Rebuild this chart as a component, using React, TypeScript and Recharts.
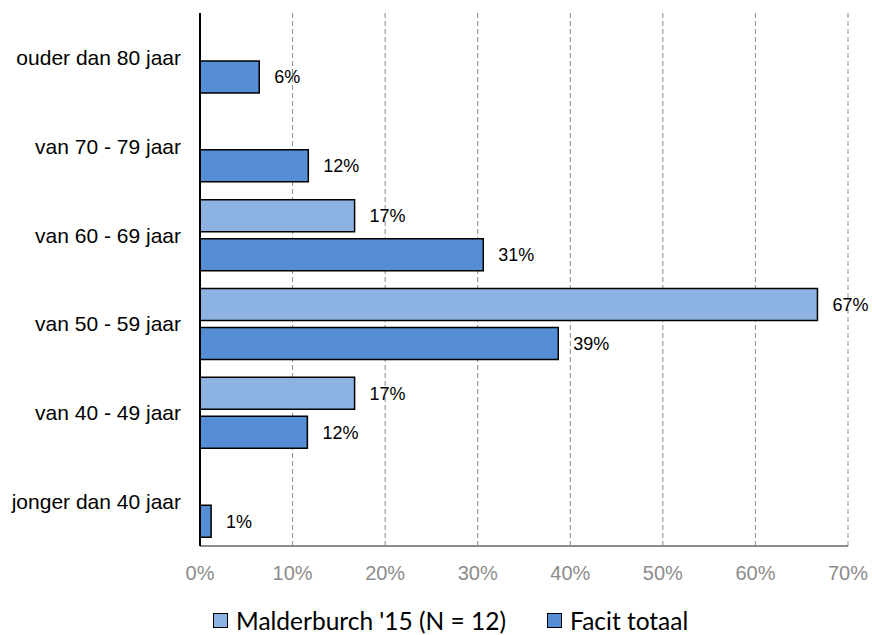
import { BarChart, Bar, XAxis, YAxis, CartesianGrid, Legend, LabelList } from 'recharts';

const categories = [
  'ouder dan 80 jaar',
  'van 70 - 79 jaar',
  'van 60 - 69 jaar',
  'van 50 - 59 jaar',
  'van 40 - 49 jaar',
  'jonger dan 40 jaar',
];
const malderburch = [null, null, 16.7, 66.7, 16.7, null];
const facitTotaal = [6.4, 11.7, 30.6, 38.7, 11.6, 1.2];
const xTicks = [0, 10, 20, 30, 40, 50, 60, 70];

const SERIES = [
  { key: 'malderburch', name: "Malderburch '15 (N = 12)", color: '#8DB3E2' },
  { key: 'facit', name: 'Facit totaal', color: '#558ED5' },
];

const data = categories.map((name, i) => ({
  name,
  malderburch: malderburch[i],
  facit: facitTotaal[i],
}));

const pct = (v: any) => (v == null || v === 0 ? '' : `${Math.round(Number(v))}%`);

const LegendContent = () => (
  <div
    style={{
      display: 'flex',
      alignItems: 'center',
      height: 30,
      paddingLeft: 213,
      fontFamily: 'Lato, sans-serif',
      fontSize: 24.5,
      color: '#000',
    }}
  >
    {SERIES.map((s, i) => (
      <div key={s.key} style={{ display: 'flex', alignItems: 'center', marginRight: i === 0 ? 41 : 0 }}>
        <span
          style={{
            display: 'inline-block',
            width: 13,
            height: 13,
            background: s.color,
            border: '1px solid #000',
            marginRight: 8,
          }}
        />
        <span>{s.name}</span>
      </div>
    ))}
  </div>
);

export default function App() {
  return (
    <div style={{ position: 'absolute', left: 0, top: 0, background: '#fff' }}>
      <BarChart
        width={872}
        height={635}
        data={data}
        layout="vertical"
        margin={{ top: 13, right: 24, left: 0, bottom: 0 }}
        barSize={32}
        barGap={7}
      >
        <CartesianGrid horizontal={false} vertical={true} stroke="#8a8a8a" strokeDasharray="5 3" />
        <XAxis
          type="number"
          domain={[0, 70]}
          ticks={xTicks}
          tickFormatter={(v) => `${v}%`}
          axisLine={{ stroke: '#8c8c8c', strokeWidth: 2 }}
          tickLine={false}
          tickSize={0}
          tickMargin={20}
          height={59}
          tick={{ fill: '#8c8c8c', fontSize: 20, fontFamily: 'Liberation Sans, Arial, sans-serif' }}
          interval={0}
        />
        <XAxis
          xAxisId="top"
          orientation="top"
          type="number"
          domain={[0, 70]}
          tick={false}
          tickLine={false}
          height={0}
          axisLine={{ stroke: '#8c8c8c', strokeWidth: 2 }}
        />
        <YAxis
          type="category"
          dataKey="name"
          width={200}
          axisLine={{ stroke: '#000', strokeWidth: 2 }}
          tickLine={false}
          tickSize={0}
          tickMargin={19}
          tick={{ fill: '#000', fontSize: 21, fontFamily: 'Liberation Sans, Arial, sans-serif' }}
          interval={0}
        />
        <YAxis
          yAxisId="right"
          orientation="right"
          type="category"
          dataKey="name"
          width={0}
          tick={false}
          tickLine={false}
          axisLine={{ stroke: '#8c8c8c', strokeWidth: 2 }}
        />
        <Legend
          verticalAlign="bottom"
          content={<LegendContent />}
          wrapperStyle={{ left: 0, width: 872, bottom: 0 }}
        />
        {SERIES.map((s) => (
          <Bar
            key={s.key}
            dataKey={s.key}
            name={s.name}
            fill={s.color}
            stroke="#000"
            strokeWidth={1.5}
            isAnimationActive={false}
          >
            <LabelList
              dataKey={s.key}
              position="right"
              offset={15}
              formatter={pct}
              style={{ fill: '#000', fontSize: 18, fontFamily: 'Liberation Sans, Arial, sans-serif' }}
            />
          </Bar>
        ))}
      </BarChart>
    </div>
  );
}
